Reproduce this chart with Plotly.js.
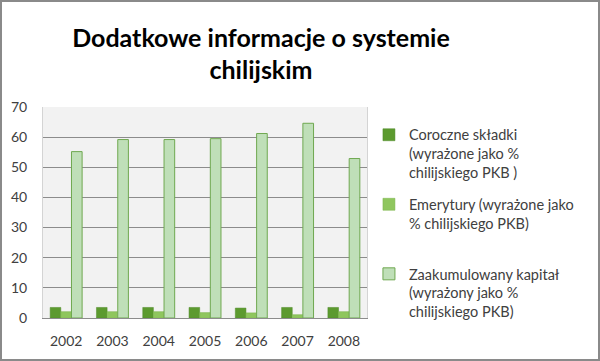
<!DOCTYPE html>
<html>
<head>
<meta charset="utf-8">
<script src="https://cdn.plot.ly/plotly-3.0.1.min.js"></script>
<style>
body{margin:0;padding:0;background:#fff;}
#wrap{position:relative;width:600px;height:361px;}
#chart{width:600px;height:361px;}
#frame{position:absolute;left:0;top:0;width:600px;height:361px;box-sizing:border-box;border:2px solid #8a8a8a;pointer-events:none;}
</style>
</head>
<body>
<div id="wrap"><div id="chart"></div><div id="frame"></div></div>
<script>
const years = ['2002','2003','2004','2005','2006','2007','2008'];
const skladki = [3.5, 3.5, 3.5, 3.5, 3.3, 3.5, 3.5];
const emerytury = [2.1, 2.1, 2.1, 1.8, 1.7, 1.1, 2.1];
const kapital = [55.2, 59.2, 59.2, 59.5, 61.2, 64.6, 52.9];
const names = [
  'Coroczne składki<br>(wyrażone jako %<br>chilijskiego PKB )',
  'Emerytury (wyrażone jako<br>% chilijskiego PKB)<br> ',
  'Zaakumulowany kapitał<br>(wyrażony jako %<br>chilijskiego PKB)'
];
const font = 'Lato, "Open Sans", sans-serif';
const traces = [
  {type:'bar', x:years, y:skladki, name:names[0], legendgroup:'a',
   marker:{color:'#5c9a2f', line:{color:'#4f8a28', width:0.5}}},
  {type:'bar', x:years, y:emerytury, name:names[1], legendgroup:'b',
   marker:{color:'#8fc65e', line:{color:'#7db44c', width:0.5}}},
  {type:'bar', x:years, y:kapital, name:names[2], legendgroup:'c',
   marker:{color:'#bfdfb8', line:{color:'#6fa850', width:1}}}
];
const layout = {
  width:600, height:361,
  margin:{l:43, r:233, t:107, b:43},
  paper_bgcolor:'#ffffff', plot_bgcolor:'#f2f2f2',
  font:{family:font, color:'#404040', size:14},
  title:{text:'<b>Dodatkowe informacje o systemie<br>chilijskim</b>', xref:'container', x:0.435, xanchor:'center',
         yref:'container', y:0.87, yanchor:'top',
         font:{family:font, size:25, color:'#000000'}},
  barmode:'group', bargap:0.31, bargroupgap:0,
  xaxis:{type:'category', showline:true, linecolor:'#8c8c8c', linewidth:1, ticks:'', ticklabelstandoff:10,
         tickfont:{size:14, color:'#404040'}, showgrid:false},
  yaxis:{range:[0,70], dtick:10, showgrid:true, gridcolor:'#8c8c8c', gridwidth:1,
         zeroline:false, showline:true, linecolor:'#d4d4d4', mirror:true, ticks:'', ticklabelstandoff:12,
         tickfont:{size:14, color:'#404040'}},
  showlegend:true,
  legend:{x:1.006, xref:'paper', xanchor:'left', y:0.944, yanchor:'top', valign:'top', traceorder:'grouped',
          tracegroupgap:10, font:{size:14.5, color:'#404040', family:font}, bgcolor:'rgba(0,0,0,0)', itemwidth:30}
};
Plotly.newPlot('chart', traces, layout, {displayModeBar:false, staticPlot:true});
</script>
</body>
</html>
